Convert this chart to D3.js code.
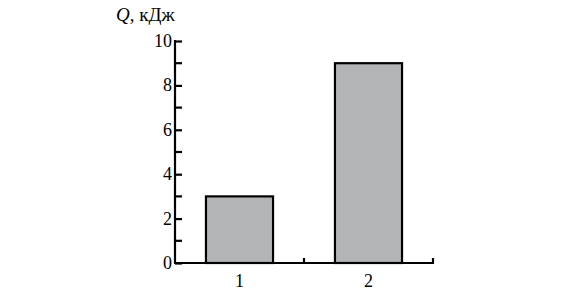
<!DOCTYPE html>
<html>
<head>
<meta charset="utf-8">
<script src="https://cdn.jsdelivr.net/npm/d3@7"></script>
<style>
  body { margin: 0; background: #fff; }
  text { font-family: "Liberation Serif", "Times New Roman", serif; fill: #000; }
</style>
</head>
<body>
<div id="chart"></div>
<script>
// data
const categories = ["1", "2"];
const values = [3, 9];
const majorTicks = [0, 2, 4, 6, 8, 10];
const minorTicks = [1, 3, 5, 7, 9];

const width = 565;
const height = 295;
const margin = {top: 41, right: 132, bottom: 32, left: 175};

const svg = d3.select("#chart")
  .append("svg")
    .attr("width", width)
    .attr("height", height);

const x = d3.scaleBand()
  .domain(categories)
  .range([margin.left, width - margin.right])
  .paddingInner(0.48)
  .paddingOuter(0.24);

const y = d3.scaleLinear()
  .domain([0, 10])
  .range([height - margin.bottom, margin.top]);

// bars
svg.append("g")
  .selectAll("rect")
  .data(values)
  .join("rect")
    .attr("x", (d, i) => x(categories[i]))
    .attr("y", d => y(d))
    .attr("width", x.bandwidth())
    .attr("height", d => y(0) - y(d))
    .attr("fill", "#b3b4b6")
    .attr("stroke", "#000")
    .attr("stroke-width", 2.2);

// y axis, ticks pointing inward
const yAxis = svg.append("g")
  .attr("transform", `translate(${margin.left},0)`)
  .call(d3.axisRight(y).tickValues(majorTicks).tickSize(7).tickFormat(""));
yAxis.select(".domain").attr("d", `M0,${y(10) - 1}V${y(0)}`);
yAxis.selectAll("line, path").attr("stroke", "#000").attr("stroke-width", 2.2);

svg.append("g")
  .attr("transform", `translate(${margin.left},0)`)
  .selectAll("line")
  .data(minorTicks)
  .join("line")
    .attr("x1", 0).attr("x2", 7)
    .attr("y1", d => y(d)).attr("y2", d => y(d))
    .attr("stroke", "#000").attr("stroke-width", 2.2);

svg.append("g")
  .selectAll("text")
  .data(majorTicks)
  .join("text")
    .attr("x", margin.left - 3)
    .attr("y", d => y(d) + 6)
    .attr("text-anchor", "end")
    .attr("font-size", 18)
    .text(d => d);

// x axis
const xAxis = svg.append("g")
  .attr("transform", `translate(0,${y(0)})`);
xAxis.append("line")
  .attr("x1", margin.left - 1).attr("x2", width - margin.right + 1)
  .attr("stroke", "#000").attr("stroke-width", 2.2);
const bounds = [x("2") - x.step() * x.paddingInner() / 2, width - margin.right];
xAxis.selectAll(".tick")
  .data(bounds)
  .join("line")
    .attr("x1", d => d).attr("x2", d => d)
    .attr("y1", 0).attr("y2", -5)
    .attr("stroke", "#000").attr("stroke-width", 2.2);
xAxis.selectAll("text")
  .data(categories)
  .join("text")
    .attr("x", d => x(d) + x.bandwidth() / 2)
    .attr("y", 24)
    .attr("text-anchor", "middle")
    .attr("font-size", 18)
    .text(d => d);

// axis title
const title = svg.append("text")
  .attr("x", 116)
  .attr("y", 21)
  .attr("font-size", 19);
title.append("tspan").attr("font-style", "italic").text("Q");
title.append("tspan").text(", кДж");
</script>
</body>
</html>
